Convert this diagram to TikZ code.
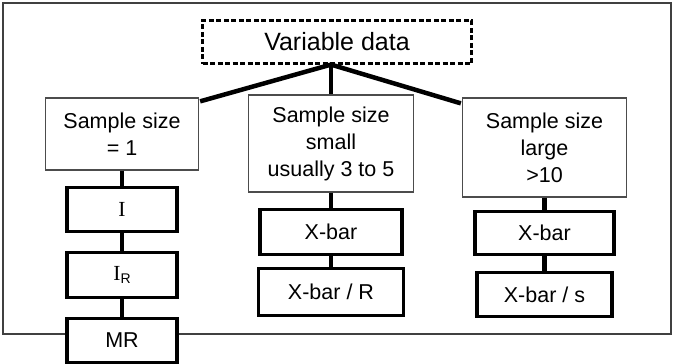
\documentclass[tikz,border=0pt]{standalone}
\usepackage{fontspec}
\setmainfont{Liberation Sans}
\newfontfamily\serifI{Liberation Serif}
\usetikzlibrary{calc}

\tikzset{
  x=1pt, y=-1pt,
  frame/.style={draw=black!75, line width=1.4pt},
  rootbox/.style={draw=black, line width=2.2pt, dash pattern=on 5pt off 2.5pt,
    minimum width=269pt, minimum height=43pt, inner sep=0pt,
    font=\fontsize{25}{30}\selectfont},
  sizebox/.style={draw=black!70, line width=1.3pt, fill=white, inner sep=0pt,
    align=center, font=\fontsize{21.5}{27}\selectfont},
  chartbox/.style={draw=black, line width=3.5pt, fill=white, inner sep=0pt,
    font=\fontsize{21.5}{25}\selectfont},
  link/.style={draw=black, line width=4.5pt},
}

\begin{document}
\begin{tikzpicture}
  \useasboundingbox (0,0) rectangle (673,364);

  % outer frame
  \draw[frame] (3,3) rectangle (671,334);

  % root
  \node[rootbox] (root) at (337,42) {Variable data};

  % sample size categories
  \node[sizebox, minimum width=153pt, minimum height=72pt] (s1) at (122,134)
    {Sample size\\= 1};
  \node[sizebox, minimum width=165pt, minimum height=97pt] (s2) at (331,143.5)
    {Sample size\\small\\usually 3 to 5};
  \node[sizebox, minimum width=164pt, minimum height=99pt] (s3) at (544.5,147.5)
    {Sample size\\large\\>10};

  % left column charts
  \node[chartbox, minimum width=110pt, minimum height=44pt] (ci)  at (122,209.5) {\serifI I};
  \node[chartbox, minimum width=110pt, minimum height=45pt] (cir) at (122,275)
    {\serifI I\fontsize{14}{16}\selectfont\sffamily\raisebox{-3pt}{\rmfamily R}};
  \node[chartbox, minimum width=110pt, minimum height=44pt] (cmr) at (122,340.5) {MR};

  % middle column charts
  \node[chartbox, minimum width=142pt, minimum height=45pt] (cx1) at (331,232) {X-bar};
  \node[chartbox, minimum width=145pt, minimum height=47pt] (cxr) at (331,292) {X-bar / R};

  % right column charts
  \node[chartbox, minimum width=139pt, minimum height=43pt] (cx2) at (544.5,233) {X-bar};
  \node[chartbox, minimum width=135pt, minimum height=44pt] (cxs) at (544.5,294.5) {X-bar / s};

  % tree connectors
  \coordinate (apex) at (root.south -| s2.north);
  \draw[link] (apex) -- ($(s1.north east)+(1,4)$);
  \draw[link] (apex) -- (s2.north);
  \draw[link] (apex) -- ($(s3.north west)+(-1,6)$);

  % column connectors
  \draw[link] (s1.south) -- (ci.north);
  \draw[link] (ci.south) -- (cir.north);
  \draw[link] (cir.south) -- (cmr.north);
  \draw[link] (s2.south) -- (cx1.north);
  \draw[link] (cx1.south) -- (cxr.north);
  \draw[link] (s3.south) -- (cx2.north);
  \draw[link] (cx2.south) -- (cxs.north);
\end{tikzpicture}
\end{document}
